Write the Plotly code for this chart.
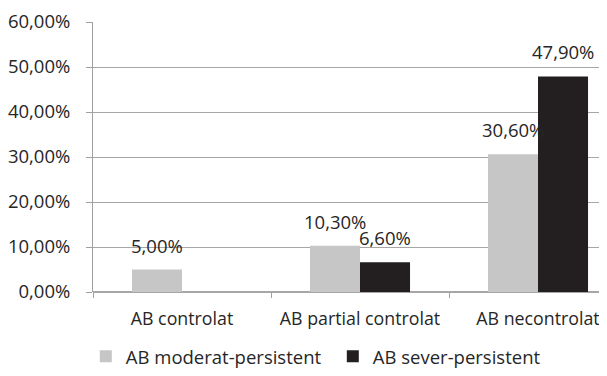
import plotly.graph_objects as go

categories = ["AB controlat", "AB partial controlat", "AB necontrolat"]
series_names = ["AB moderat-persistent", "AB sever-persistent"]
moderat = [5.00, 10.30, 30.60]
sever = [None, 6.60, 47.90]
colors = ["#c6c6c6", "#231f20"]
y_ticks = [0, 10, 20, 30, 40, 50, 60]
y_tick_labels = ["0,00%", "10,00%", "20,00%", "30,00%", "40,00%", "50,00%", "60,00%"]

FONT = "Open Sans"
FS = 18.5
fig = go.Figure()
for name, vals, col in zip(series_names, [moderat, sever], colors):
    fig.add_trace(go.Bar(x=categories, y=vals, name=name, marker_color=col,
                         marker_line_width=0))

def fmt(v):
    return f"{v:.2f}".replace(".", ",") + "%"

annotations = []
for i, (vals, shift) in enumerate(zip([moderat, sever], [-25, 25])):
    for c, v in zip(categories, vals):
        if v is None:
            continue
        annotations.append(dict(x=c, y=v, text=fmt(v), showarrow=False,
                                xshift=shift, yshift=10, yanchor="bottom",
                                font=dict(family=FONT, size=FS, color="#262626")))

fig.update_layout(
    width=599, height=368,
    margin=dict(l=85, r=0, t=14, b=84),
    paper_bgcolor="white", plot_bgcolor="white",
    barmode="group", bargap=0.438, bargroupgap=0,
    font=dict(family=FONT, size=FS, color="#262626"),
    annotations=annotations,
    legend=dict(orientation="h", x=-0.014, xanchor="left",
                y=-0.24, yanchor="middle",
                font=dict(family=FONT, size=FS, color="#262626"),
                itemwidth=30, entrywidth=202, traceorder="normal"),
    xaxis=dict(range=[-0.5, 2.3876], showline=False, ticks="outside",
               tickson="boundaries", ticklen=5, tickcolor="#a0a0a0",
               showgrid=False, tickfont=dict(size=17.8), automargin=False,
               ticklabelstandoff=14),
    yaxis=dict(range=[0, 60], tickvals=y_ticks, ticktext=y_tick_labels,
               showgrid=True, gridcolor="#a6a6a6", gridwidth=1,
               showline=True, linecolor="#a0a0a0", linewidth=1,
               ticks="outside", ticklen=6, tickcolor="#a0a0a0",
               ticklabelstandoff=12, zeroline=True, zerolinecolor="#a6a6a6",
               tickfont=dict(size=FS), automargin=False),
)
fig.write_html("out.html")
